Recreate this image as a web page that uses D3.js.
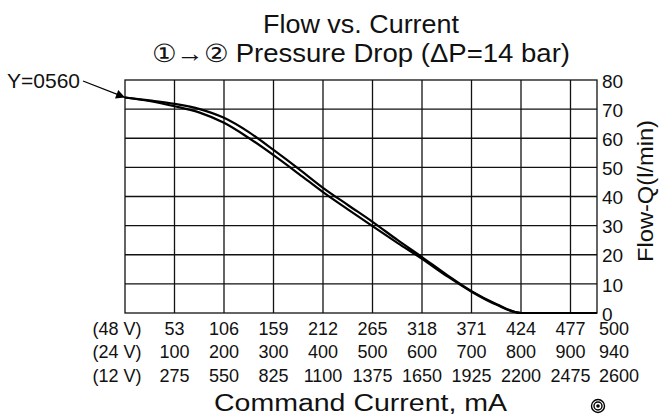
<!DOCTYPE html>
<html>
<head>
<meta charset="utf-8">
<script src="https://cdn.jsdelivr.net/npm/d3@7"></script>
<style>
  body { margin: 0; background: #fff; }
  svg text { font-family: "Liberation Sans", Arial, sans-serif; fill: #111; }
</style>
</head>
<body>
<svg id="chart" width="661" height="416"></svg>
<script>
// tick labels for the three supply voltages
var ticks48 = [53, 106, 159, 212, 265, 318, 371, 424, 477, 500];
var ticks24 = [100, 200, 300, 400, 500, 600, 700, 800, 900, 940];
var ticks12 = [275, 550, 825, 1100, 1375, 1650, 1925, 2200, 2475, 2600];
var yTicks = [0, 10, 20, 30, 40, 50, 60, 70, 80];

// the two flow curves, current in mA at 48 V
var currentX = [0, 26, 53, 80, 106, 133, 159, 186, 212, 239, 265, 292, 318, 345, 371, 398, 424, 450, 477, 500];
var flowUpper = [74, 73, 71.8, 70, 67, 62, 56, 49.5, 43, 37, 31.3, 25, 19.2, 13, 7.5, 3, 0, 0, 0, 0];
var flowLower = [74, 72.8, 71, 68.8, 65.3, 60, 54.2, 47.8, 41.5, 35.5, 29.8, 24, 18.6, 12.6, 7.3, 2.8, 0, 0, 0, 0];

var pLeft = 125, pRight = 597, pTop = 80, pBottom = 313, step = 49.5;

var svg = d3.select("#chart");

// last column is narrower than the others
var x = d3.scaleLinear().domain([0, 477, 500]).range([pLeft, pLeft + 9 * step, pRight]);
var y = d3.scaleLinear().domain([0, 80]).range([pBottom, pTop]);

// grid
var grid = svg.append("g").attr("stroke", "#111").attr("stroke-width", 1.3);
grid.selectAll("line.v")
  .data(ticks48.slice(0, -1))
  .enter().append("line")
  .attr("x1", function(d){ return x(d); }).attr("x2", function(d){ return x(d); })
  .attr("y1", pTop).attr("y2", pBottom);
grid.selectAll("line.h")
  .data(yTicks.slice(1, -1))
  .enter().append("line")
  .attr("x1", pLeft).attr("x2", pRight)
  .attr("y1", function(d){ return y(d); }).attr("y2", function(d){ return y(d); });
grid.append("rect")
  .attr("x", pLeft).attr("y", pTop)
  .attr("width", pRight - pLeft).attr("height", pBottom - pTop)
  .attr("fill", "none");

// curves
var line = d3.line()
  .x(function(d){ return x(d[0]); })
  .y(function(d){ return y(d[1]); })
  .curve(d3.curveMonotoneX);

[flowUpper, flowLower].forEach(function(s){
  svg.append("path")
    .datum(currentX.map(function(c, i){ return [c, s[i]]; }))
    .attr("d", line)
    .attr("fill", "none")
    .attr("stroke", "#000")
    .attr("stroke-width", 2.2);
});

// right axis labels
svg.append("g").selectAll("text")
  .data(yTicks)
  .enter().append("text")
  .attr("x", pRight + 5)
  .attr("y", function(d){ return y(d) + 1; })
  .attr("dy", "0.35em")
  .attr("font-size", 19)
  .text(function(d){ return d; });

svg.append("text")
  .attr("transform", "translate(653,191) rotate(-90)")
  .attr("text-anchor", "middle")
  .attr("font-size", 22)
  .attr("textLength", 142).attr("lengthAdjust", "spacingAndGlyphs")
  .text("Flow-Q(l/min)");

// bottom tick rows
var rows = [["(48 V)", ticks48, 328.5], ["(24 V)", ticks24, 351.5], ["(12 V)", ticks12, 375.5]];
rows.forEach(function(r){
  var g = svg.append("g").attr("font-size", 18);
  g.append("text").attr("x", 117).attr("y", r[2]).attr("dy", "0.35em")
    .attr("text-anchor", "middle").text(r[0]);
  g.selectAll("text.t")
    .data(r[1])
    .enter().append("text")
    .attr("x", function(d, i){ return i < 9 ? x(ticks48[i]) : pRight + 2; })
    .attr("text-anchor", function(d, i){ return i < 9 ? "middle" : "start"; })
    .attr("y", r[2]).attr("dy", "0.35em")
    .text(function(d){ return d; });
});

svg.append("text")
  .attr("x", 360.5).attr("y", 411)
  .attr("text-anchor", "middle").attr("font-size", 23)
  .attr("textLength", 293).attr("lengthAdjust", "spacingAndGlyphs")
  .text("Command Current, mA");

// title
svg.append("text")
  .attr("x", 361).attr("y", 33)
  .attr("text-anchor", "middle").attr("font-size", 25)
  .attr("textLength", 196).attr("lengthAdjust", "spacingAndGlyphs")
  .text("Flow vs. Current");
svg.append("text")
  .attr("x", 361).attr("y", 62)
  .attr("text-anchor", "middle").attr("font-size", 25)
  .attr("textLength", 418).attr("lengthAdjust", "spacingAndGlyphs")
  .text("\u2460\u2192\u2461 Pressure Drop (\u0394P=14 bar)");

// Y=0560 callout
svg.append("text")
  .attr("x", 7).attr("y", 81).attr("dy", "0.35em")
  .attr("font-size", 21)
  .text("Y=0560");
svg.append("defs").append("marker")
  .attr("id", "arrow").attr("viewBox", "0 0 10 10")
  .attr("refX", 10).attr("refY", 5)
  .attr("markerWidth", 22).attr("markerHeight", 9)
  .attr("markerUnits", "userSpaceOnUse")
  .attr("orient", "auto")
  .append("path").attr("d", "M0,0L10,5L0,10z").attr("fill", "#000");
svg.append("line")
  .attr("x1", 83).attr("y1", 81)
  .attr("x2", x(0)).attr("y2", y(flowUpper[0]))
  .attr("stroke", "#000").attr("stroke-width", 1.3)
  .attr("marker-end", "url(#arrow)");

// symbol bottom right
var sym = svg.append("g").attr("transform", "translate(598,406)")
  .attr("fill", "none").attr("stroke", "#000").attr("stroke-width", 1.4);
[6.5, 4].forEach(function(r){ sym.append("circle").attr("r", r); });
sym.append("circle").attr("r", 1.8).attr("fill", "#000").attr("stroke", "none");
</script>
</body>
</html>
